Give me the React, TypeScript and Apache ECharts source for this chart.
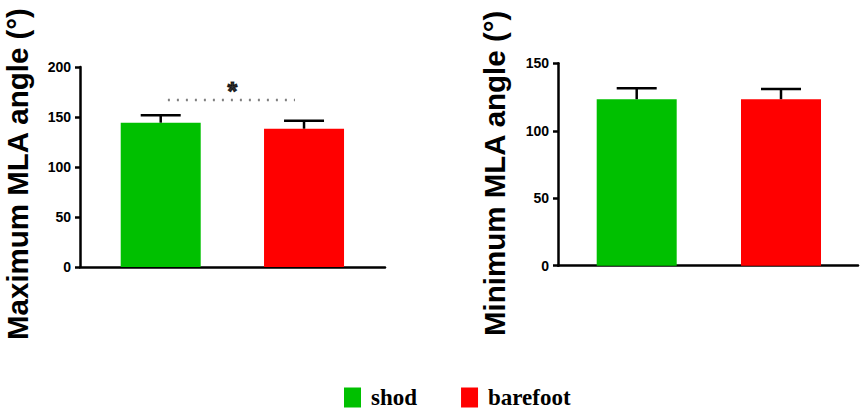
import React, { useEffect, useRef } from "react";
import * as echarts from "echarts";

// ---- data ----
const groups = ["shod", "barefoot"];
const groupX = [1, 2];
const groupColors = ["#00C000", "#FF0000"];

const maxMeans = [144.3, 138.3];
const maxSD = [7.4, 8.0];
const minMeans = [123.4, 123.4];
const minSD = [8.1, 7.6];

const maxAxis = { min: 0, max: 200, interval: 50 };
const minAxis = { min: 0, max: 150, interval: 50 };

const sigLine = [
  [1.05, 167],
  [1.937, 167],
];
const sigStar = [[1.5, 176]];

const leftTitle = "Maximum MLA angle (°)";
const rightTitle = "Minimum MLA angle (°)";

const SANS = '"Liberation Sans", Arial, sans-serif';
const SERIF = '"Liberation Serif", "Times New Roman", serif';

function errorRender(params: any, api: any) {
  const x = api.value(0);
  const m = api.value(1);
  const sd = api.value(2);
  const base = api.coord([x, m]);
  const top = api.coord([x, m + sd]);
  const half = 20;
  return {
    type: "group",
    children: [
      {
        type: "line",
        shape: { x1: base[0], y1: base[1], x2: top[0], y2: top[1] },
        style: { stroke: "#000", lineWidth: 2.5 },
      },
      {
        type: "line",
        shape: { x1: top[0] - half, y1: top[1], x2: top[0] + half, y2: top[1] },
        style: { stroke: "#000", lineWidth: 2.5 },
      },
    ],
  };
}

function yAxisCfg(gridIndex: number, range: any) {
  return {
    type: "value",
    gridIndex,
    min: range.min,
    max: range.max,
    interval: range.interval,
    axisLine: { show: true, onZero: false, lineStyle: { color: "#000", width: 2.5 } },
    axisTick: { show: true, length: 5, lineStyle: { color: "#000", width: 2.5 } },
    axisLabel: {
      show: true,
      margin: 9,
      color: "#000",
      fontFamily: SANS,
      fontWeight: "bold",
      fontSize: 14,
    },
    splitLine: { show: false },
  };
}

function xAxisCfg(gridIndex: number, min: number, max: number) {
  return {
    type: "value",
    gridIndex,
    min,
    max,
    axisLine: { show: true, onZero: false, lineStyle: { color: "#000", width: 2.5 } },
    axisTick: { show: false },
    axisLabel: { show: false },
    splitLine: { show: false },
  };
}

export default function App() {
  const ref = useRef<HTMLDivElement>(null);

  useEffect(() => {
    document.body.style.margin = "0";
    if (!ref.current) return;
    const chart = echarts.init(ref.current, null, { renderer: "svg" });

    const allSeries: any[] = [];
    const panels = [
      { means: maxMeans, sd: maxSD, idx: 0 },
      { means: minMeans, sd: minSD, idx: 1 },
    ];
    panels.forEach((p) => {
      groups.forEach((g, i) => {
        allSeries.push({
          type: "bar",
          name: g,
          xAxisIndex: p.idx,
          yAxisIndex: p.idx,
          barWidth: 80,
          barGap: "-100%",
          itemStyle: { color: groupColors[i] },
          data: [[groupX[i], p.means[i]]],
          z: 2,
        });
      });
      allSeries.push({
        type: "custom",
        name: "error" + p.idx,
        xAxisIndex: p.idx,
        yAxisIndex: p.idx,
        renderItem: errorRender,
        encode: { x: 0, y: 1 },
        data: groupX.map((x, i) => [x, p.means[i], p.sd[i]]),
        z: 3,
      });
    });

    allSeries.push({
      type: "line",
      name: "sig",
      xAxisIndex: 0,
      yAxisIndex: 0,
      symbol: "none",
      lineStyle: { color: "#808080", width: 2.5, type: [2, 7] },
      data: sigLine,
    });
    allSeries.push({
      type: "scatter",
      name: "star",
      xAxisIndex: 0,
      yAxisIndex: 0,
      symbolSize: 0,
      itemStyle: { color: "#000" },
      label: {
        show: true,
        position: "inside",
        formatter: "*",
        color: "#000",
        textBorderColor: "#000",
        textBorderWidth: 1.2,
        fontFamily: SANS,
        fontWeight: "bold",
        fontSize: 25,
      },
      data: sigStar,
    });

    chart.setOption({
      animation: false,
      grid: [
        { left: 80, top: 67, width: 305, height: 200 },
        { left: 558, top: 63.3, width: 300, height: 202.4 },
      ],
      xAxis: [xAxisCfg(0, 0.4368, 2.565), xAxisCfg(1, 0.4546, 2.5336)],
      yAxis: [yAxisCfg(0, maxAxis), yAxisCfg(1, minAxis)],
      legend: {
        data: groups,
        left: 344,
        top: 386,
        padding: 0,
        itemWidth: 17,
        itemHeight: 20,
        itemGap: 44,
        icon: "rect",
        selectedMode: false,
        textStyle: {
          fontFamily: SERIF,
          fontWeight: "bold",
          fontSize: 23,
          color: "#000",
          padding: [0, 0, 0, 5],
        },
      },
      graphic: [
        {
          type: "text",
          x: 17.7,
          y: 340,
          rotation: Math.PI / 2,
          style: {
            text: leftTitle,
            fontFamily: SANS,
            fontWeight: "bold",
            fontSize: 29.5,
            fill: "#000",
            align: "left",
            verticalAlign: "middle",
          },
        },
        {
          type: "text",
          x: 494.7,
          y: 336,
          rotation: Math.PI / 2,
          style: {
            text: rightTitle,
            fontFamily: SANS,
            fontWeight: "bold",
            fontSize: 29.5,
            fill: "#000",
            align: "left",
            verticalAlign: "middle",
          },
        },
      ],
      series: allSeries,
    });

    return () => chart.dispose();
  }, []);

  return <div ref={ref} style={{ width: 865, height: 409 }} />;
}
